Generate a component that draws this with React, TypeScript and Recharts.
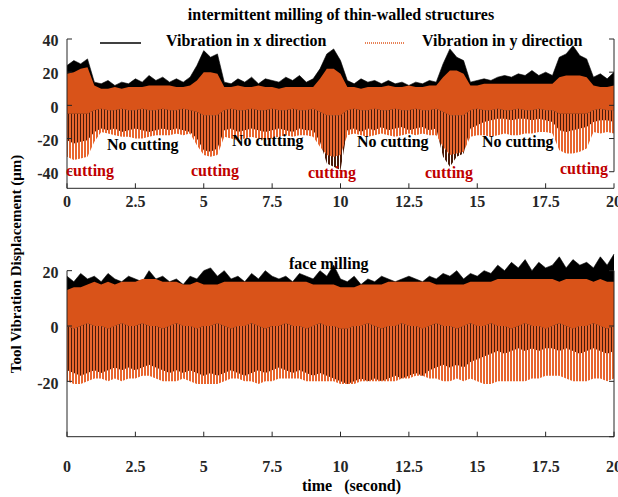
import React from 'react';
import { ComposedChart, Area, XAxis, YAxis, ReferenceLine } from 'recharts';

// sampling instants (s)
const TIME = [
  0, 0.25, 0.5, 0.75, 1, 1.25, 1.5, 1.75, 2, 2.25, 2.5, 2.75, 3, 3.25, 3.5, 3.75,
  4, 4.25, 4.5, 4.75, 5, 5.25, 5.5, 5.75, 6, 6.25, 6.5, 6.75, 7, 7.25, 7.5, 7.75,
  8, 8.25, 8.5, 8.75, 9, 9.25, 9.5, 9.75, 10, 10.25, 10.5, 10.75, 11, 11.25, 11.5, 11.75,
  12, 12.25, 12.5, 12.75, 13, 13.25, 13.5, 13.75, 14, 14.25, 14.5, 14.75, 15, 15.25, 15.5, 15.75,
  16, 16.25, 16.5, 16.75, 17, 17.25, 17.5, 17.75, 18, 18.25, 18.5, 18.75, 19, 19.25, 19.5, 19.75, 20,
];

// intermittent milling: envelopes of the x (black) and y (orange) vibration, µm
const P1_X_HI = [
  24, 27, 25, 28, 14, 13, 15, 12, 14, 13, 16, 14, 18, 15, 17, 14, 16, 14, 17, 24,
  33, 29, 31, 14, 13, 16, 14, 17, 13, 16, 15, 14, 17, 15, 18, 14, 16, 22, 31, 34,
  27, 15, 13, 16, 14, 15, 13, 15, 13, 14, 12, 14, 13, 15, 14, 25, 34, 29, 27, 14,
  15, 16, 15, 17, 18, 17, 19, 18, 21, 18, 20, 18, 29, 31, 36, 30, 28, 17, 19, 16, 20,
];
const P1_X_LO = [
  -21, -23, -22, -21, -16, -14, -15, -14, -16, -15, -14, -15, -16, -15, -14, -15, -14, -15, -16, -20,
  -27, -28, -26, -15, -14, -16, -15, -14, -15, -16, -15, -14, -15, -16, -14, -15, -15, -22, -35, -37,
  -39, -15, -14, -16, -14, -15, -13, -15, -14, -13, -15, -14, -13, -15, -14, -31, -37, -31, -29, -14,
  -12, -10, -9, -8, -8, -9, -8, -8, -9, -8, -9, -10, -15, -16, -15, -14, -13, -10, -9, -9, -10,
];
const P1_Y_HI = [
  19, 20, 22, 23, 12, 10, 10, 11, 10, 11, 11, 11, 12, 12, 12, 12, 11, 11, 12, 15,
  20, 20, 19, 11, 11, 12, 11, 11, 12, 11, 11, 10, 11, 11, 11, 11, 11, 16, 22, 22,
  19, 11, 11, 10, 11, 11, 11, 12, 11, 11, 12, 11, 11, 12, 12, 17, 21, 21, 19, 12,
  12, 13, 13, 13, 13, 13, 13, 13, 13, 13, 13, 13, 17, 18, 18, 18, 17, 12, 11, 11, 12,
];
const P1_Y_CORE = [
  -5, -5, -5, -5, -3, -2, -3, -3, -2, -3, -3, -2, -3, -3, -2, -3, -3, -2, -3, -4,
  -6, -6, -6, -3, -2, -3, -3, -2, -3, -3, -2, -3, -3, -2, -3, -3, -2, -4, -6, -6,
  -6, -3, -2, -3, -3, -2, -3, -3, -2, -3, -3, -2, -3, -3, -2, -4, -6, -6, -6, -3,
  -2, -3, -3, -2, -3, -3, -2, -3, -3, -2, -3, -3, -5, -5, -5, -5, -5, -3, -2, -3, -3,
];
const P1_Y_LO = [
  -31, -33, -32, -31, -22, -16, -17, -18, -19, -19, -20, -20, -19, -18, -18, -18, -17, -18, -17, -24,
  -30, -31, -30, -19, -20, -21, -20, -19, -20, -21, -20, -19, -18, -19, -18, -18, -19, -25, -30, -31,
  -30, -18, -17, -18, -19, -18, -17, -18, -19, -18, -17, -18, -17, -18, -18, -25, -30, -29, -28, -19,
  -18, -18, -19, -18, -17, -18, -18, -17, -17, -16, -16, -17, -27, -29, -29, -28, -26, -16, -17, -16, -17,
];

// face milling
const P2_X_HI = [
  18, 16, 19, 17, 18, 16, 19, 17, 16, 18, 17, 16, 20, 17, 18, 16, 17, 15, 18, 17,
  20, 21, 18, 20, 17, 18, 16, 19, 17, 20, 18, 17, 18, 16, 19, 18, 17, 20, 18, 22,
  17, 16, 18, 15, 17, 16, 18, 17, 16, 17, 18, 17, 16, 18, 17, 19, 18, 20, 17, 19,
  18, 20, 19, 22, 20, 23, 21, 24, 20, 23, 21, 22, 25, 21, 24, 22, 23, 21, 25, 22, 26,
];
const P2_X_LO = [
  -16, -17, -18, -17, -16, -17, -16, -15, -16, -15, -16, -15, -14, -15, -16, -17, -16, -17, -16, -17,
  -18, -17, -18, -17, -16, -17, -18, -17, -16, -17, -16, -15, -16, -17, -16, -17, -18, -17, -18, -19,
  -20, -21, -20, -19, -20, -19, -20, -19, -18, -19, -18, -17, -18, -16, -15, -14, -15, -14, -15, -13,
  -12, -11, -10, -9, -10, -9, -8, -9, -8, -9, -8, -8, -9, -8, -9, -10, -9, -8, -9, -10, -9,
];
const P2_Y_HI = [
  13, 14, 14, 15, 16, 15, 16, 15, 16, 16, 16, 17, 17, 17, 16, 16, 16, 15, 15, 16,
  15, 15, 15, 16, 16, 16, 16, 16, 16, 16, 16, 16, 16, 16, 16, 16, 15, 15, 15, 15,
  14, 14, 14, 15, 15, 15, 15, 16, 16, 16, 16, 16, 16, 16, 15, 15, 15, 15, 15, 16,
  16, 16, 16, 17, 17, 17, 17, 17, 17, 17, 17, 17, 16, 17, 17, 17, 17, 16, 17, 16, 16,
];
const P2_Y_CORE = [
  0, -1, 0, 1, 0, 0, -1, 0, 1, 0, 0, 1, 0, 0, -1, 0, 1, 0, 0, -1,
  0, 0, 1, 0, -1, 0, 0, 1, 0, -1, 0, 0, 1, 0, 0, -1, 0, 1, 0, 0,
  -1, -1, 0, 0, 1, 0, -1, 0, 0, 1, 0, 0, -1, 0, 1, 0, 0, -1, 0, 1,
  0, 0, 1, 0, 0, -1, 0, 1, 0, 0, -1, 0, 1, 0, -1, 0, 0, 1, 0, -1, 0,
];
const P2_Y_LO = [
  -20, -21, -21, -20, -19, -19, -20, -19, -20, -19, -19, -18, -18, -19, -20, -20, -20, -19, -20, -21,
  -21, -21, -21, -20, -19, -19, -20, -20, -21, -20, -20, -19, -19, -19, -19, -20, -20, -20, -20, -20,
  -21, -21, -21, -20, -20, -20, -20, -20, -20, -19, -19, -18, -18, -19, -19, -20, -20, -19, -20, -19,
  -20, -21, -21, -20, -20, -20, -20, -20, -19, -19, -18, -18, -18, -19, -20, -20, -20, -19, -19, -20, -19,
];

const X_TICKS = [0, 2.5, 5, 7.5, 10, 12.5, 15, 17.5, 20];
const P1_Y_TICKS = [-40, -20, 0, 20, 40];
const P2_Y_TICKS = [-20, 0, 20];

const NO_CUTTING_AT = [
  { x: 107, y: 150 },
  { x: 232, y: 146 },
  { x: 357, y: 147 },
  { x: 482, y: 147 },
];
const CUTTING_AT = [
  { x: 66, y: 176 },
  { x: 191, y: 176 },
  { x: 308, y: 177.5 },
  { x: 425, y: 177.5 },
  { x: 560, y: 173.5 },
];

const AXIS = '#262626';
const ORANGE = '#d95319';
const FONT = '"Liberation Serif", "Times New Roman", serif';

const buildRows = (xHi: number[], xLo: number[], yHi: number[], yCore: number[], yLo: number[]) =>
  TIME.map((t, i) => ({
    t,
    xTop: [yCore[i], xHi[i]],
    xLow: [xLo[i], yCore[i]],
    yLow: [yLo[i], yCore[i]],
    yTop: [yCore[i], yHi[i]],
  }));

const p1Rows = buildRows(P1_X_HI, P1_X_LO, P1_Y_HI, P1_Y_CORE, P1_Y_LO);
const p2Rows = buildRows(P2_X_HI, P2_X_LO, P2_Y_HI, P2_Y_CORE, P2_Y_LO);

const tickStyle = { fill: AXIS, fontSize: 16, fontWeight: 700 };

interface PanelProps {
  rows: any[];
  height: number;
  margin: { top: number; right: number; bottom: number; left: number };
  domain: [number, number];
  yTicks: number[];
  xAxisHeight: number;
  xTickMargin: number;
  leftAxisTop?: number; // when set, left spine stops at this value
  rightTicks: number[];
}

const Panel: React.FC<PanelProps> = ({
  rows, height, margin, domain, yTicks, xAxisHeight, xTickMargin, leftAxisTop, rightTicks,
}) => {
  const rTop = rightTicks[rightTicks.length - 1];
  const rBottom = rightTicks[0];
  return (
    <ComposedChart width={618} height={height} data={rows} margin={margin}>
      <XAxis
        dataKey="t"
        type="number"
        domain={[0, 20]}
        ticks={X_TICKS}
        interval={0}
        height={xAxisHeight}
        tickSize={-5}
        tickMargin={xTickMargin}
        stroke={AXIS}
        tick={tickStyle}
      />
      <YAxis
        type="number"
        domain={domain}
        ticks={yTicks}
        interval={0}
        width={50}
        tickSize={-5}
        tickMargin={13.5}
        stroke={AXIS}
        axisLine={leftAxisTop === undefined}
        tick={{ ...tickStyle, dy: 1.5 }}
      />
      <Area dataKey="xTop" type="linear" stroke="#000" strokeWidth={0.6} fill="#000" fillOpacity={1} dot={false} activeDot={false} isAnimationActive={false} />
      <Area dataKey="xLow" type="linear" stroke="none" fill="url(#blackStripe)" fillOpacity={1} dot={false} activeDot={false} isAnimationActive={false} />
      <Area dataKey="yLow" type="linear" stroke="none" fill="url(#orangeStripe)" fillOpacity={1} dot={false} activeDot={false} isAnimationActive={false} />
      <Area dataKey="yTop" type="linear" stroke="none" fill={ORANGE} fillOpacity={1} dot={false} activeDot={false} isAnimationActive={false} />
      {leftAxisTop !== undefined && (
        <ReferenceLine segment={[{ x: 0, y: domain[0] }, { x: 0, y: leftAxisTop }]} stroke={AXIS} />
      )}
      <ReferenceLine segment={[{ x: 20, y: rBottom }, { x: 20, y: rTop }]} stroke={AXIS} />
      {rightTicks.map((v) => (
        <ReferenceLine key={v} segment={[{ x: 19.82, y: v }, { x: 20, y: v }]} stroke={AXIS} />
      ))}
    </ComposedChart>
  );
};

const App: React.FC = () => {
  const bold = { fontFamily: FONT, fontWeight: 700 } as const;
  return (
    <div style={{ position: 'absolute', left: 0, top: 0, width: 618, height: 497, background: '#fff', fontFamily: FONT }}>
      <svg width={0} height={0} style={{ position: 'absolute' }}>
        <defs>
          <pattern id="orangeStripe" patternUnits="userSpaceOnUse" width={3} height={4}>
            <rect x={0} y={0} width={2} height={4} fill="#e8662f" />
          </pattern>
          <pattern id="blackStripe" patternUnits="userSpaceOnUse" width={3} height={4}>
            <rect x={1} y={0} width={2} height={4} fill="#4a1a08" />
          </pattern>
        </defs>
      </svg>

      <div style={{ position: 'absolute', left: 0, top: 0 }}>
        <Panel
          rows={p1Rows}
          height={240}
          margin={{ top: 39, right: 4, bottom: 11.7, left: 17 }}
          domain={[-50, 40]}
          yTicks={P1_Y_TICKS}
          xAxisHeight={40}
          xTickMargin={12.4}
          rightTicks={P1_Y_TICKS}
        />
      </div>

      <div style={{ position: 'absolute', left: 0, top: 230 }}>
        <Panel
          rows={p2Rows}
          height={267}
          margin={{ top: 13, right: 4, bottom: 10.3, left: 17 }}
          domain={[-40, 30]}
          yTicks={P2_Y_TICKS}
          xAxisHeight={50}
          xTickMargin={28.9}
          leftAxisTop={20}
          rightTicks={[-40, -20, 0, 20]}
        />
      </div>

      <svg width={618} height={497} style={{ position: 'absolute', left: 0, top: 0, pointerEvents: 'none' }}>
        <text x={341} y={20} textAnchor="middle" fontSize={16} fill="#000" style={bold}>
          intermittent milling of thin-walled structures
        </text>
        <line x1={100} x2={141} y1={43} y2={43} stroke="#000" strokeWidth={1.5} />
        <text x={166} y={45.5} fontSize={16} fill="#000" style={bold}>Vibration in x direction</text>
        <line x1={365} x2={405} y1={43} y2={43} stroke="#e05a20" strokeWidth={1.3} strokeDasharray="1 1" />
        <text x={422} y={45.5} fontSize={16} fill="#000" style={bold}>Vibration in y direction</text>

        {NO_CUTTING_AT.map((p, i) => (
          <text key={`nc-${i}`} x={p.x} y={p.y} fontSize={16} fill="#000" style={bold}>No cutting</text>
        ))}
        {CUTTING_AT.map((p, i) => (
          <text key={`c-${i}`} x={p.x} y={p.y} fontSize={16} fill="#c00000" style={bold}>cutting</text>
        ))}

        <text x={289} y={268.5} fontSize={16} fill="#000" style={bold}>face milling</text>

        <text transform="translate(20.5,264) rotate(-90)" textAnchor="middle" fontSize={15} fill="#000" style={bold}>
          Tool Vibration Displacement (μm)
        </text>
        <text x={351.5} y={491} textAnchor="middle" fontSize={16} fill="#000" style={{ ...bold, whiteSpace: 'pre' }}>
          time   (second)
        </text>
      </svg>
    </div>
  );
};

export default App;
